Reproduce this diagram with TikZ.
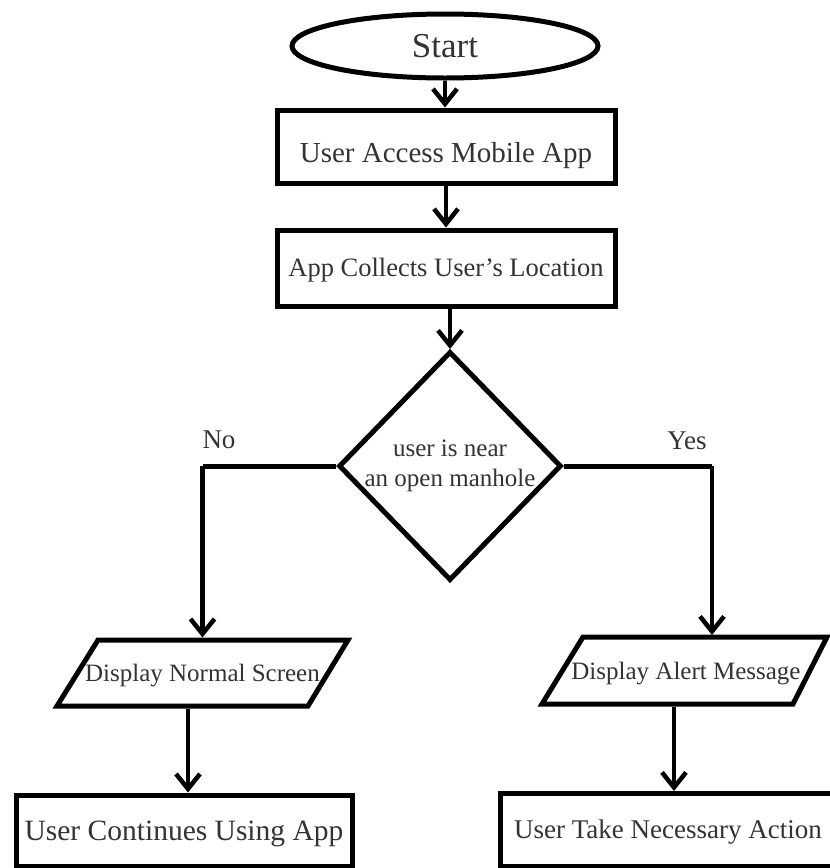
\documentclass[tikz,border=0pt]{standalone}
\usepackage{fontspec}
\setmainfont{Liberation Serif}
\usetikzlibrary{shapes.geometric,arrows.meta}
\begin{document}
\begin{tikzpicture}[x=1pt,y=-1pt,
  shp/.style={draw=black, line width=5pt, text=black!80, inner sep=0pt},
  fs/.style={font=\fontsize{#1}{#1}\selectfont},
  boxnode/.style={shp, rectangle, text depth=0pt},
  arr/.style={line width=4.5pt, -{Straight Barb[length=15pt,width=24pt]}},
  lnk/.style={line width=5pt},
  lbl/.style={text=black!80, inner sep=0pt, text height=17.8pt, text depth=0pt, fs=27},
  pnode/.style={inner sep=0pt, outer sep=2.5pt, text=black!80, text height=16.5pt, text depth=0pt, fs=25}
]
\useasboundingbox (0,0) rectangle (830,868);

% Start
\node[shp, ellipse, fs=35, text height=23.1pt, text depth=0pt, minimum width=306pt, minimum height=64pt] (st) at (445,46) {Start};

% process boxes
\node[boxnode, fs=29, text height=32.8pt, minimum width=338pt, minimum height=73pt] (b1) at (446,146.5) {User Access Mobile App};
\node[boxnode, fs=26.5, text height=17.5pt, minimum width=338pt, minimum height=76pt] (b2) at (446,268) {App Collects User’s Location};

% decision
\node[shp, diamond, align=center, minimum width=222pt, minimum height=229pt,
      font=\fontsize{25}{30}\selectfont] (d) at (450,466) {user is near\\an open manhole};

% parallelograms (input/output)
\node[pnode, minimum width=250pt, minimum height=66pt] (p1) at (202.5,673) {Display Normal Screen};
\draw[lnk, line join=miter] (98,640) -- (348,640) -- (308,706) -- (57,706) -- cycle;
\node[pnode, minimum width=250pt, minimum height=67pt] (p2) at (686,671) {Display Alert Message};
\draw[lnk, line join=miter] (583,637) -- (827,637) -- (793,704) -- (542,704) -- cycle;

% final boxes
\node[boxnode, fs=29.5, text height=19.5pt, minimum width=336pt, minimum height=71pt] (b3) at (184,830.5) {User Continues Using App};
\node[boxnode, fs=27, text height=17.8pt, minimum width=336pt, minimum height=73pt] (b4) at (668,830) {User Take Necessary Action};

% labels
\node[lbl] (no) at (219,440) {No};
\node[lbl] (yes) at (687,441) {Yes};

% connectors
\draw[arr] (st.south) -- (b1.north -| st.south);
\draw[arr] (b1.south) -- (b2.north);
\draw[arr] (b2.south -| d.north) -- (d.north);
\coordinate (noc) at (202.5,466);
\coordinate (yesc) at (712,466);
\draw[lnk] (d.west) -- (noc);
\draw[arr] (noc) -- (p1.north);
\draw[lnk] (d.east) -- (yesc);
\draw[arr] (yesc) -- (yesc |- p2.north);
\draw[arr] (p1.south -| 188,0) -- (b3.north -| 188,0);
\draw[arr] (p2.south -| 674,0) -- (b4.north -| 674,0);
\end{tikzpicture}
\end{document}
